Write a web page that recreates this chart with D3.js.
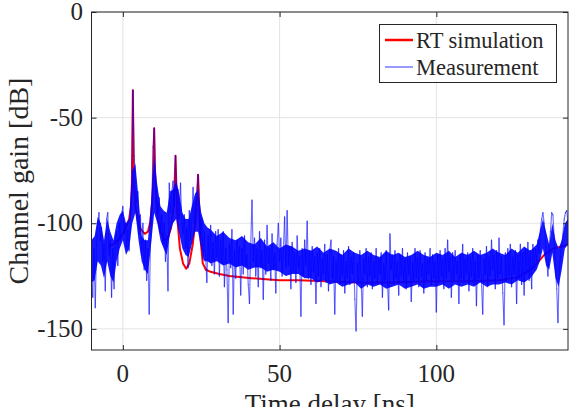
<!DOCTYPE html>
<html>
<head>
<meta charset="utf-8">
<script src="https://cdn.jsdelivr.net/npm/d3@7"></script>
<style>
  body { margin: 0; background: #fff; }
  text { font-family: "Liberation Serif", "Times New Roman", serif; fill: #262626; }
  .grid line { stroke: #e3e3e3; stroke-width: 1; }
</style>
</head>
<body>
<svg id="chart" width="571" height="407"></svg>
<script>

// RT simulation (ray tracing), hand
var rtTime = [-4.5, -3, -1.5, 0, 1, 2, 2.6, 2.9, 3.2, 3.5, 4.0, 4.8, 5.8, 7.0, 8.0, 8.8, 9.4, 9.8,
  10.0, 10.2, 10.6, 11.2, 12.0, 13.2, 14.4, 15.4, 16.1, 16.5, 16.8, 17.1, 17.5, 18.2, 19.2, 20.2,
  21.2, 22.3, 23.2, 23.7, 24.0, 24.3, 24.8, 25.5, 26.5, 28, 30.8, 34, 37.2, 41, 45.6, 50, 56, 65,
  75, 85, 99, 110, 120, 126, 129, 131.5, 134.4, 137.2, 140, 142];
var rtGain = [-111, -110, -108, -105, -102, -98, -92, -80, -37, -80, -92, -99, -103, -105, -104,
  -99, -89, -72, -55, -72, -89, -98, -104, -108, -107, -102, -93, -82, -68, -84, -100, -112, -119,
  -121.5, -119, -110, -98, -88, -77, -90, -108, -119, -122, -123, -124, -125, -125.5, -126, -126.5,
  -127, -127, -127.5, -128, -128, -127.5, -127.5, -127, -125.5, -123, -120, -115, -112, -111, -110];

// measurement, sampled every 0.4 ns from -10 ns
var measStart = -10;
var measStep = 0.4;
var measGain = [
  -120, -135, -112, -140, -110, -100, -95, -108, -102, -118, -110, -132, -98, -95, -115, -108, -135, -112, -131, -108,
  -104, -120, -100, -108, -96, -92, -105, -100, -112, -103, -113, -98, -85, -37, -68, -78, -90, -85, -105, -96,
  -115, -100, -122, -108, -127, -112, -143, -110, -98, -64, -55, -80, -84, -95, -88, -104, -96, -110, -100, -118,
  -106, -132, -81, -95, -86, -80, -92, -68, -85, -84, -98, -81, -100, -105, -96, -112, -102, -121, -94, -108,
  -98, -83, -100, -90, -86, -77, -95, -105, -98, -117, -104, -115, -128, -106, -118, -101, -120, -109, -124, -104,
  -116, -103, -125, -108, -119, -104, -130, -112, -122, -147, -110, -121, -103, -143, -113, -126, -108, -120, -111, -134,
  -112, -124, -106, -120, -115, -129, -138, -110, -89, -118, -107, -125, -112, -130, -104, -121, -113, -136, -108, -124,
  -101, -119, -112, -127, -105, -122, -114, -133, -110, -100, -118, -107, -125, -113, -97, -121, -94, -120, -111, -131,
  -109, -123, -114, -128, -106, -121, -116, -144, -112, -125, -108, -120, -99, -126, -113, -129, -111, -123, -116, -138,
  -114, -125, -112, -130, -117, -124, -110, -128, -115, -132, -113, -108, -126, -116, -143, -118, -127, -112, -129, -115,
  -125, -113, -133, -118, -126, -111, -129, -116, -124, -114, -136, -151, -119, -128, -113, -127, -144, -117, -124, -112,
  -130, -116, -125, -114, -131, -118, -126, -112, -129, -117, -124, -114, -135, -119, -127, -113, -128, -141, -105, -122,
  -115, -129, -113, -126, -118, -134, -115, -125, -112, -128, -117, -131, -114, -124, -116, -137, -118, -127, -112, -126,
  -116, -130, -113, -125, -119, -133, -114, -127, -117, -124, -112, -129, -115, -126, -118, -142, -115, -128, -113, -125,
  -117, -131, -112, -126, -108, -123, -116, -135, -114, -127, -113, -124, -118, -138, -115, -126, -110, -128, -117, -124,
  -114, -132, -116, -125, -112, -129, -118, -139, -115, -126, -113, -128, -143, -117, -124, -111, -130, -116, -125, -108,
  -122, -115, -131, -113, -126, -107, -124, -116, -133, -148, -114, -127, -112, -125, -110, -130, -116, -124, -113, -138,
  -115, -126, -110, -129, -114, -134, -112, -124, -109, -127, -113, -131, -110, -122, -112, -118, -108, -114, -103, -98,
  -95, -100, -108, -117, -125, -112, -104, -95, -96, -108, -120, -131, -147, -122, -116, -110, -105, -98, -95, -94, -100
];

// dense core of the measurement trace (where the fast noise fills solid blue)
var bandTime = [-10, -9, -8, -7, -6, -5, -4, -3, -2, -1, 0, 1, 2, 3, 4, 5, 6, 7, 8, 9, 10, 11, 12,
  13, 14, 15, 16, 17, 18, 19, 20, 21, 22, 23, 24, 25, 26, 27, 28,
  30, 32, 34, 36, 38, 40, 42, 44, 46, 48, 50, 52, 54, 56, 58, 60, 62, 64, 66, 68, 70, 72, 74, 76,
  78, 80, 82, 84, 86, 88, 90, 92, 94, 96, 98, 100, 102, 104, 106, 108, 110, 112, 114, 116, 118,
  120, 122, 124, 126, 128, 130, 132,
  133, 134, 135, 136, 137, 138, 139, 140, 141, 142];
var bandHigh = [-108, -106, -97, -100, -108, -98, -104, -108, -100, -96, -94, -100, -98, -75, -72,
  -88, -106, -108, -108, -90, -68, -82, -92, -94, -95, -85, -84, -80, -86, -95, -98, -98, -92, -86,
  -84, -95, -100, -102, -103,
  -106, -104, -107, -108, -106, -109, -110, -107, -111, -109, -112, -110, -111, -113, -112,
  -113, -111, -114, -112, -113, -115, -112, -114, -115, -113, -115, -116, -113, -115, -114, -116,
  -115, -113, -115, -116, -114, -115, -113, -116, -114, -115, -113, -115, -114, -112, -114, -115,
  -112, -114, -111, -113, -110,
  -104, -98, -104, -110, -100, -108, -112, -108, -100, -98];
var bandLow = [-128, -127, -118, -120, -126, -118, -125, -128, -118, -112, -108, -115, -112, -100,
  -95, -108, -118, -122, -124, -110, -95, -100, -108, -112, -115, -105, -100, -98, -105, -112, -115,
  -116, -110, -104, -104, -112, -118, -118, -119,
  -118, -120, -119, -121, -120, -122, -121, -121, -123, -122, -123, -125, -124, -124, -126,
  -126, -128, -127, -129, -128, -130, -129, -128, -131, -129, -130, -129, -131, -130, -129, -131,
  -130, -129, -131, -130, -130, -129, -131, -129, -130, -129, -130, -128, -130, -129, -129, -128,
  -129, -127, -128, -126, -122,
  -118, -112, -120, -122, -114, -126, -130, -122, -112, -110];

var xTicks = [0, 50, 100];
var yTicks = [0, -50, -100, -150];
var seriesNames = ["RT simulation", "Measurement"];
var seriesColors = ["#ff0000", "#0000ff"];

var svg = d3.select("#chart");
var plotLeft = 91.5, plotRight = 568, plotTop = 12, plotBottom = 350;

var x = d3.scaleLinear().domain([-10, 142]).range([plotLeft, plotRight]);
var y = d3.scaleLinear().domain([-160, 0]).range([plotBottom, plotTop]);

svg.append("rect").attr("width", 571).attr("height", 407).attr("fill", "#fff");

// grid
var grid = svg.append("g").attr("class", "grid");
grid.selectAll(".gx").data(xTicks).enter().append("line")
   .attr("x1", function(d) { return x(d); })
   .attr("x2", function(d) { return x(d); })
   .attr("y1", plotTop).attr("y2", plotBottom);
grid.selectAll(".gy").data(yTicks).enter().append("line")
   .attr("x1", plotLeft).attr("x2", plotRight)
   .attr("y1", function(d) { return y(d); })
   .attr("y2", function(d) { return y(d); });

svg.append("clipPath").attr("id", "plot-clip")
   .append("rect")
   .attr("x", plotLeft).attr("y", plotTop)
   .attr("width", plotRight - plotLeft).attr("height", plotBottom - plotTop);

var plot = svg.append("g").attr("clip-path", "url(#plot-clip)");

var rtPoints = rtTime.map(function(t, i) { return [t, rtGain[i]]; });
plot.append("path")
   .datum(rtPoints)
   .attr("fill", "none")
   .attr("stroke", seriesColors[0])
   .attr("stroke-width", 2)
   .attr("stroke-linejoin", "round")
   .attr("d", d3.line().x(function(d) { return x(d[0]); }).y(function(d) { return y(d[1]); }));

// solid core of the noisy measurement
var bandPoints = bandTime.map(function(t, i) { return [t, bandHigh[i], bandLow[i]]; });
plot.append("path")
   .datum(bandPoints)
   .attr("fill", seriesColors[1])
   .attr("fill-opacity", 0.9)
   .attr("d", d3.area()
      .x(function(d) { return x(d[0]); })
      .y0(function(d) { return y(d[2]); })
      .y1(function(d) { return y(d[1]); }));

// measurement drawn as single segments so the transparency builds up like the original
var measPoints = measGain.map(function(g, i) { return [measStart + i * measStep, g]; });
plot.append("g").selectAll("line")
   .data(d3.pairs(measPoints))
   .enter().append("line")
   .attr("x1", function(d) { return x(d[0][0]); })
   .attr("y1", function(d) { return y(d[0][1]); })
   .attr("x2", function(d) { return x(d[1][0]); })
   .attr("y2", function(d) { return y(d[1][1]); })
   .attr("stroke", seriesColors[1])
   .attr("stroke-opacity", 0.55)
   .attr("stroke-width", 1.2)
   .attr("stroke-linecap", "round");

// axes box, ticks inward on all four sides
var axisColor = "#262626";
var axes = svg.append("g");
axes.append("g").attr("transform", "translate(0," + plotBottom + ")")
   .call(d3.axisBottom(x).tickValues(xTicks).tickSize(-5).tickFormat(""));
axes.append("g").attr("transform", "translate(0," + plotTop + ")")
   .call(d3.axisTop(x).tickValues(xTicks).tickSize(-5).tickFormat(""));
axes.append("g").attr("transform", "translate(" + plotLeft + ",0)")
   .call(d3.axisLeft(y).tickValues(yTicks).tickSize(-5).tickFormat(""));
axes.append("g").attr("transform", "translate(" + plotRight + ",0)")
   .call(d3.axisRight(y).tickValues(yTicks).tickSize(-5).tickFormat(""));
axes.selectAll(".domain").remove();
axes.selectAll("line").attr("stroke", axisColor);
axes.append("rect")
   .attr("x", plotLeft).attr("y", plotTop)
   .attr("width", plotRight - plotLeft).attr("height", plotBottom - plotTop)
   .attr("fill", "none").attr("stroke", axisColor).attr("stroke-width", 1);

// tick labels
svg.selectAll(".xlab").data(xTicks).enter().append("text")
   .attr("x", function(d) { return x(d); })
   .attr("y", 382)
   .attr("text-anchor", "middle")
   .attr("font-size", 25)
   .text(function(d) { return d; });
svg.selectAll(".ylab").data(yTicks).enter().append("text")
   .attr("x", 83)
   .attr("y", function(d) { return y(d) + 8; })
   .attr("text-anchor", "end")
   .attr("font-size", 25)
   .text(function(d) { return d; });

// axis titles
svg.append("text")
   .attr("x", (plotLeft + plotRight) / 2)
   .attr("y", 413)
   .attr("text-anchor", "middle")
   .attr("font-size", 27)
   .text("Time delay [ns]");
svg.append("text")
   .attr("transform", "translate(28," + ((plotTop + plotBottom) / 2) + ") rotate(-90)")
   .attr("text-anchor", "middle")
   .attr("font-size", 28)
   .text("Channel gain [dB]");

// legend
var legend = svg.append("g");
legend.append("rect")
   .attr("x", 379.5).attr("y", 24.5)
   .attr("width", 177).attr("height", 58)
   .attr("fill", "#fff").attr("stroke", axisColor).attr("stroke-width", 1);
var rows = legend.selectAll(".row").data(seriesNames).enter().append("g")
   .attr("transform", function(d, i) { return "translate(0," + (40 + i * 27) + ")"; });
rows.append("line")
   .attr("x1", 385).attr("x2", 413)
   .attr("stroke", function(d, i) { return seriesColors[i]; })
   .attr("stroke-width", function(d, i) { return i == 0 ? 2.5 : 1; })
   .attr("stroke-opacity", function(d, i) { return i == 0 ? 1 : 0.8; });
rows.append("text")
   .attr("x", 416)
   .attr("y", 7.5)
   .attr("font-size", 22.5)
   .text(function(d) { return d; });

</script>
</body>
</html>
